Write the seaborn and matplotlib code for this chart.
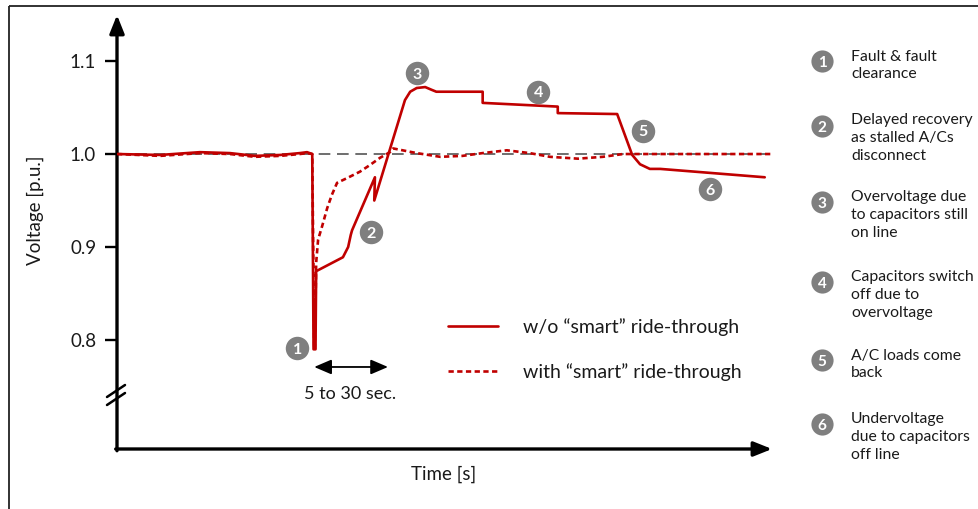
import numpy as np
import pandas as pd
import matplotlib
matplotlib.use("Agg")
import matplotlib.pyplot as plt
from matplotlib.patches import Rectangle
import seaborn as sns

# ---------------- data ----------------
t_without = [0, 6.6, 12.7, 17.3, 21.1, 25.0, 28.0, 29.1, 29.9, 30.1, 30.4, 30.5,
             34.6, 35.4, 35.8, 36.0, 39.5, 39.4, 44.1, 44.9, 45.9, 47.2, 48.2,
             48.9, 56.0, 56.0, 67.5, 67.5, 76.6, 78.9, 80.1, 81.6, 83.2, 99.2]
v_without = [1.000, 0.999, 1.002, 1.001, 0.998, 0.999, 1.001, 1.002, 1.000, 0.790,
             0.790, 0.874, 0.889, 0.900, 0.913, 0.918, 0.975, 0.950, 1.058, 1.067,
             1.071, 1.072, 1.069, 1.067, 1.067, 1.055, 1.051, 1.044, 1.043, 0.999,
             0.989, 0.984, 0.984, 0.975]

t_with = [0, 6.6, 12.7, 17.3, 21.1, 25.0, 28.0, 29.1, 29.9, 30.2, 30.3, 30.5, 30.8,
          31.4, 32.2, 32.9, 33.7, 35.2, 37.2, 38.7, 40.3, 41.8, 42.3, 45.9, 49.5,
          52.9, 56.0, 59.7, 63.2, 66.3, 70.6, 74.4, 77.5, 100.3]
v_with = [1.000, 0.998, 1.001, 1.000, 0.997, 0.998, 1.000, 1.001, 1.000, 0.790, 0.790,
          0.883, 0.908, 0.922, 0.942, 0.956, 0.969, 0.974, 0.981, 0.988, 0.996, 1.002,
          1.006, 1.001, 0.997, 0.998, 1.001, 1.004, 1.001, 0.997, 0.995, 0.997, 1.000,
          1.000]

label_without = "w/o \u201csmart\u201d ride-through"
label_with = "with \u201csmart\u201d ride-through"

nominal_voltage = 1.0
ytick_values = [0.8, 0.9, 1.0, 1.1]
ytick_labels = ["0.8", "0.9", "1.0", "1.1"]
xlabel = "Time [s]"
ylabel = "Voltage [p.u.]"

marker_ids = ["1", "2", "3", "4", "5", "6"]
marker_t = [27.6, 38.9, 45.9, 64.5, 80.6, 90.8]
marker_v = [0.791, 0.916, 1.087, 1.067, 1.025, 0.962]

span_start_t, span_end_t, span_v = 30.2, 41.5, 0.771
span_text = "5 to 30 sec."
span_text_t, span_text_v = 35.7, 0.742

notes = ["Fault & fault\nclearance",
         "Delayed recovery\nas stalled A/Cs\ndisconnect",
         "Overvoltage due\nto capacitors still\non line",
         "Capacitors switch\noff due to\novervoltage",
         "A/C loads come\nback",
         "Undervoltage\ndue to capacitors\noff line"]

RED = "#C00000"
GREY = "#7F7F7F"

# ---------------- style ----------------
sns.set_theme(style="white")
plt.rcParams["font.family"] = ["Lato", "DejaVu Sans"]

W, H = 979, 509
fig = plt.figure(figsize=(W / 100, H / 100), dpi=100)
ax = fig.add_axes([117 / W, (H - 449) / H, 655 / W, 434 / H])
ax.set_xlim(0, 100.31)
ax.set_ylim(0.6828, 1.1495)
ax.patch.set_alpha(0)

df_wo = pd.DataFrame({"t": t_without, "v": v_without})
df_w = pd.DataFrame({"t": t_with, "v": v_with})

ax.axhline(nominal_voltage, xmin=0, xmax=0.995, color="#555555", lw=1.2,
           dashes=(7, 4), zorder=1)

sns.lineplot(data=df_w, x="t", y="v", sort=False, estimator=None, color=RED,
             lw=1.9, ax=ax, zorder=3)
line_w = ax.get_lines()[-1]
line_w.set_linestyle((0, (2, 1.3)))
sns.lineplot(data=df_wo, x="t", y="v", sort=False, estimator=None, color=RED,
             lw=1.9, ax=ax, zorder=4)
line_wo = ax.get_lines()[-1]

for s in ax.spines.values():
    s.set_visible(False)
ax.set_xticks([])
ax.set_yticks(ytick_values, ytick_labels)
ax.tick_params(axis="y", left=True, direction="out", length=9, width=1.7,
               pad=6, labelsize=13.5, color="black", labelcolor="#1a1a1a")
ax.set_xlabel(xlabel, fontsize=13.5, color="#1a1a1a")
ax.xaxis.set_label_coords(0.499, -0.058)
ax.xaxis.label.set_va("center")
ax.set_ylabel(ylabel, fontsize=13.5, color="#1a1a1a")
ax.yaxis.set_label_coords(-0.125, 0.55)
ax.yaxis.label.set_va("center")

# axis arrows
arrow_kw = dict(arrowstyle="-|>,head_length=0.55,head_width=0.22", lw=2.4,
                color="black", shrinkA=0, shrinkB=0, mutation_scale=20)
ax.annotate("", xy=(0, 1), xytext=(0, -0.004), xycoords="axes fraction",
            arrowprops=arrow_kw, annotation_clip=False)
ax.annotate("", xy=(1, 0), xytext=(-0.002, 0), xycoords="axes fraction",
            arrowprops=arrow_kw, annotation_clip=False)

# numbered markers
ax.scatter(marker_t, marker_v, s=285, color=GREY, linewidths=0, zorder=6,
           clip_on=False)
for mid, mt, mv in zip(marker_ids, marker_t, marker_v):
    ax.text(mt, mv, mid, ha="center", va="center_baseline", color="white",
            fontsize=11.5, fontweight="bold", zorder=7)

# 5 to 30 sec span
ax.annotate("", xy=(span_end_t, span_v), xytext=(span_start_t, span_v),
            arrowprops=dict(arrowstyle="<|-|>,head_length=0.7,head_width=0.3",
                            color="black", lw=1.3, shrinkA=0, shrinkB=0,
                            mutation_scale=15))
ax.text(span_text_t, span_text_v, span_text, ha="center", va="center",
        fontsize=13, color="#1a1a1a")

# overlay in pixel coordinates for decorations
ov = fig.add_axes([0, 0, 1, 1])
ov.set_xlim(0, W)
ov.set_ylim(H, 0)
ov.axis("off")
ov.patch.set_alpha(0)
ov.add_patch(Rectangle((9, 6), 1200, 800, fill=False, lw=1.3, ec="#222222"))
ov.plot([107, 125], [397, 385], color="black", lw=1.8)
ov.plot([107, 125], [405, 393], color="black", lw=1.8)

leg = ax.legend(handles=[line_wo, line_w], labels=[label_without, label_with],
                loc="upper left", bbox_to_anchor=(448, 318),
                bbox_transform=ov.transData, frameon=False, fontsize=14,
                handlelength=2.55, handletextpad=1.3, labelspacing=1.42,
                borderpad=0, borderaxespad=0)
for txt in leg.get_texts():
    txt.set_color("#1a1a1a")

# right-hand notes
note_circle_y = [61, 126, 202, 282, 360, 424]
note_first_y = [57, 121, 198, 278, 356, 420]
ov.scatter([822] * len(note_circle_y), note_circle_y, s=255, color=GREY,
           linewidths=0)
for mid, cy in zip(marker_ids, note_circle_y):
    ov.text(822, cy, mid, ha="center", va="center_baseline", color="white",
            fontsize=11, fontweight="bold")
for note, fy in zip(notes, note_first_y):
    n = note.count("\n") + 1
    ov.text(851, fy + (n - 1) * 8.5, note, ha="left", va="center",
            fontsize=11.3, linespacing=1.32, color="#1a1a1a")

fig.savefig("out.png", dpi=100)
